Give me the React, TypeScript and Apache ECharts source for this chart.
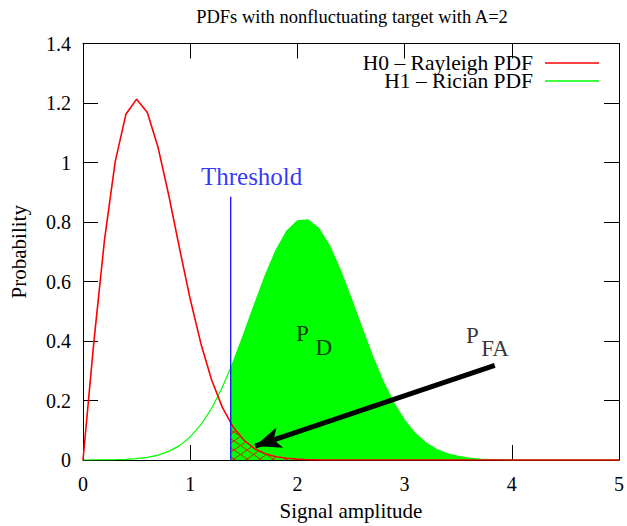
import React, { useEffect, useRef } from 'react';
import * as echarts from 'echarts';

// Signal amplitude sample points
const amplitude = [
  0, 0.1, 0.2, 0.3, 0.4, 0.5, 0.6, 0.7, 0.8, 0.9,
  1.0, 1.1, 1.2, 1.3, 1.4, 1.5, 1.6, 1.7, 1.8, 1.9,
  2.0, 2.1, 2.2, 2.3, 2.4, 2.5, 2.6, 2.7, 2.8, 2.9,
  3.0, 3.1, 3.2, 3.3, 3.4, 3.5, 3.6, 3.7, 3.8, 3.9,
  4.0, 5.0,
];

// H0 – Rayleigh PDF values
const rayleighPdf = [
  0, 0.392, 0.738, 1.002, 1.162, 1.213, 1.168, 1.051, 0.89, 0.712,
  0.541, 0.391, 0.269, 0.177, 0.111, 0.067, 0.038, 0.021, 0.011, 0.006,
  0.003, 0.001, 0.0005, 0.0002, 0, 0, 0, 0, 0, 0,
  0, 0, 0, 0, 0, 0, 0, 0, 0, 0,
  0, 0,
];

// H1 – Rician PDF values
const ricianPdf = [
  0, 0.0001, 0.0004, 0.001, 0.0022, 0.0046, 0.0089, 0.0164, 0.0289, 0.0484,
  0.0776, 0.1188, 0.1741, 0.2444, 0.3287, 0.4235, 0.5233, 0.62, 0.705, 0.769,
  0.804, 0.807, 0.778, 0.72, 0.639, 0.545, 0.446, 0.35, 0.264, 0.191,
  0.133, 0.089, 0.057, 0.035, 0.021, 0.012, 0.0064, 0.0034, 0.0017, 0.0008,
  0.0004, 0,
];

const threshold = 1.378;
const thresholdLineTop = 0.885;
const ricianAtThreshold = 0.31;
const rayleighAtThreshold = 0.123;

const seriesNames = ['H0 – Rayleigh PDF', 'H1 – Rician PDF'];
const titleText = 'PDFs with nonfluctuating target with A=2';
const xAxisName = 'Signal amplitude';
const yAxisName = 'Probability';
const thresholdLabel = 'Threshold';

const FONT = '"Liberation Serif", "DejaVu Serif", serif';

function hatchTile(): string {
  const svg =
    '<svg xmlns="http://www.w3.org/2000/svg" width="13" height="9">' +
    '<line x1="0" y1="0" x2="13" y2="9" stroke="#d42000" stroke-width="1"/>' +
    '<line x1="0" y1="9" x2="13" y2="0" stroke="#d42000" stroke-width="1"/>' +
    '</svg>';
  return 'data:image/svg+xml;charset=utf-8,' + encodeURIComponent(svg);
}

export default function App() {
  const ref = useRef<HTMLDivElement>(null);

  useEffect(() => {
    document.body.style.margin = '0';
    if (!ref.current) return;
    const chart = echarts.init(ref.current, null, { renderer: 'svg' });

    const rayleighPairs = amplitude.map((x, i) => [x, rayleighPdf[i]]);
    const ricianPairs = amplitude.map((x, i) => [x, ricianPdf[i]]);
    const fillPairs = [[threshold, ricianAtThreshold], ...ricianPairs.filter((p) => p[0] > threshold && p[0] <= 4.0)];
    const hatchPairs = [[threshold, rayleighAtThreshold], ...rayleighPairs.filter((p) => p[0] > threshold && p[0] <= 2.4)];

    const axisCommon = {
      axisLine: { show: true, onZero: false, lineStyle: { color: '#000', width: 1 } },
      axisTick: { show: true, inside: true, length: 15, lineStyle: { color: '#000', width: 1 } },
      splitLine: { show: false },
    };

    chart.setOption({
      animation: false,
      backgroundColor: '#fff',
      textStyle: { fontFamily: FONT },
      title: {
        text: titleText,
        left: 352,
        top: 7,
        padding: 0,
        textAlign: 'center',
        textStyle: { fontFamily: FONT, fontSize: 18.5, fontWeight: 'normal', color: '#000' },
      },
      legend: {
        data: seriesNames.map((n) => ({ name: n, icon: 'rect' })),
        orient: 'vertical',
        right: 28,
        top: 52,
        padding: 0,
        align: 'right',
        itemGap: -4,
        itemWidth: 54,
        itemHeight: 1.5,
        textStyle: { fontFamily: FONT, fontSize: 21.5, color: '#000', lineHeight: 18, padding: [0, 7, 0, 0] },
      },
      grid: { left: 83, right: 5, top: 43.5, bottom: 60 },
      xAxis: [
        {
          type: 'value',
          min: 0,
          max: 5,
          interval: 1,
          position: 'bottom',
          name: xAxisName,
          nameLocation: 'middle',
          nameGap: 40,
          nameTextStyle: { fontFamily: FONT, fontSize: 21, color: '#000' },
          axisLabel: { fontFamily: FONT, fontSize: 20, color: '#000', margin: 14 },
          ...axisCommon,
        },
        {
          type: 'value',
          min: 0,
          max: 5,
          interval: 1,
          position: 'top',
          axisLabel: { show: false },
          ...axisCommon,
        },
      ],
      yAxis: [
        {
          type: 'value',
          min: 0,
          max: 1.4,
          interval: 0.2,
          position: 'left',
          name: yAxisName,
          nameLocation: 'middle',
          nameGap: 54,
          nameTextStyle: { fontFamily: FONT, fontSize: 21, color: '#000' },
          axisLabel: { fontFamily: FONT, fontSize: 20, color: '#000', margin: 12 },
          ...axisCommon,
        },
        {
          type: 'value',
          min: 0,
          max: 1.4,
          interval: 0.2,
          position: 'right',
          axisLabel: { show: false },
          ...axisCommon,
        },
      ],
      series: [
        {
          name: 'PD area',
          type: 'line',
          data: fillPairs,
          showSymbol: false,
          symbol: 'none',
          lineStyle: { width: 0 },
          areaStyle: { color: '#00ff00', opacity: 1 },
          z: 1,
          silent: true,
        },
        {
          name: 'PFA area',
          type: 'line',
          data: hatchPairs,
          showSymbol: false,
          symbol: 'none',
          lineStyle: { width: 0 },
          areaStyle: {
            color: { image: hatchTile(), repeat: 'repeat', imageWidth: 13, imageHeight: 9 },
            opacity: 1,
          },
          z: 2,
          silent: true,
        },
        {
          name: seriesNames[1],
          type: 'line',
          data: ricianPairs,
          showSymbol: false,
          symbol: 'none',
          color: '#00ff00',
          lineStyle: { color: '#00ff00', width: 1.2 },
          z: 3,
        },
        {
          name: seriesNames[0],
          type: 'line',
          data: rayleighPairs,
          showSymbol: false,
          symbol: 'none',
          color: '#ff0000',
          lineStyle: { color: '#ff0000', width: 1.6 },
          z: 4,
        },
        {
          name: 'Threshold line',
          type: 'line',
          data: [
            [threshold, 0],
            [threshold, thresholdLineTop],
          ],
          showSymbol: false,
          symbol: 'none',
          lineStyle: { color: '#0000ff', width: 1.2 },
          z: 5,
        },
        {
          name: 'Annotations',
          type: 'scatter',
          symbolSize: 0,
          z: 6,
          silent: true,
          label: { show: true, position: 'inside', fontFamily: FONT, color: '#000' },
          data: [
            { value: [1.573, 0.953], label: { formatter: thresholdLabel, fontSize: 25, color: '#0000ff' } },
            { value: [2.047, 0.424], label: { formatter: 'P', fontSize: 23 } },
            { value: [2.247, 0.379], label: { formatter: 'D', fontSize: 23 } },
            { value: [3.632, 0.42], label: { formatter: 'P', fontSize: 23 } },
            { value: [3.843, 0.376], label: { formatter: 'FA', fontSize: 23 } },
          ],
          markLine: {
            silent: true,
            symbol: ['none', 'arrow'],
            symbolSize: [0, 20],
            label: { show: false },
            lineStyle: { color: '#000', width: 5, type: 'solid' },
            emphasis: { disabled: true },
            data: [
              [
                { coord: [3.841, 0.318], symbol: 'none' },
                { coord: [1.606, 0.047], symbol: 'arrow', symbolSize: [16, 26] },
              ],
            ],
          },
        },
      ],
    });

    return () => {
      chart.dispose();
    };
  }, []);

  return <div ref={ref} style={{ width: 627, height: 526 }} />;
}
